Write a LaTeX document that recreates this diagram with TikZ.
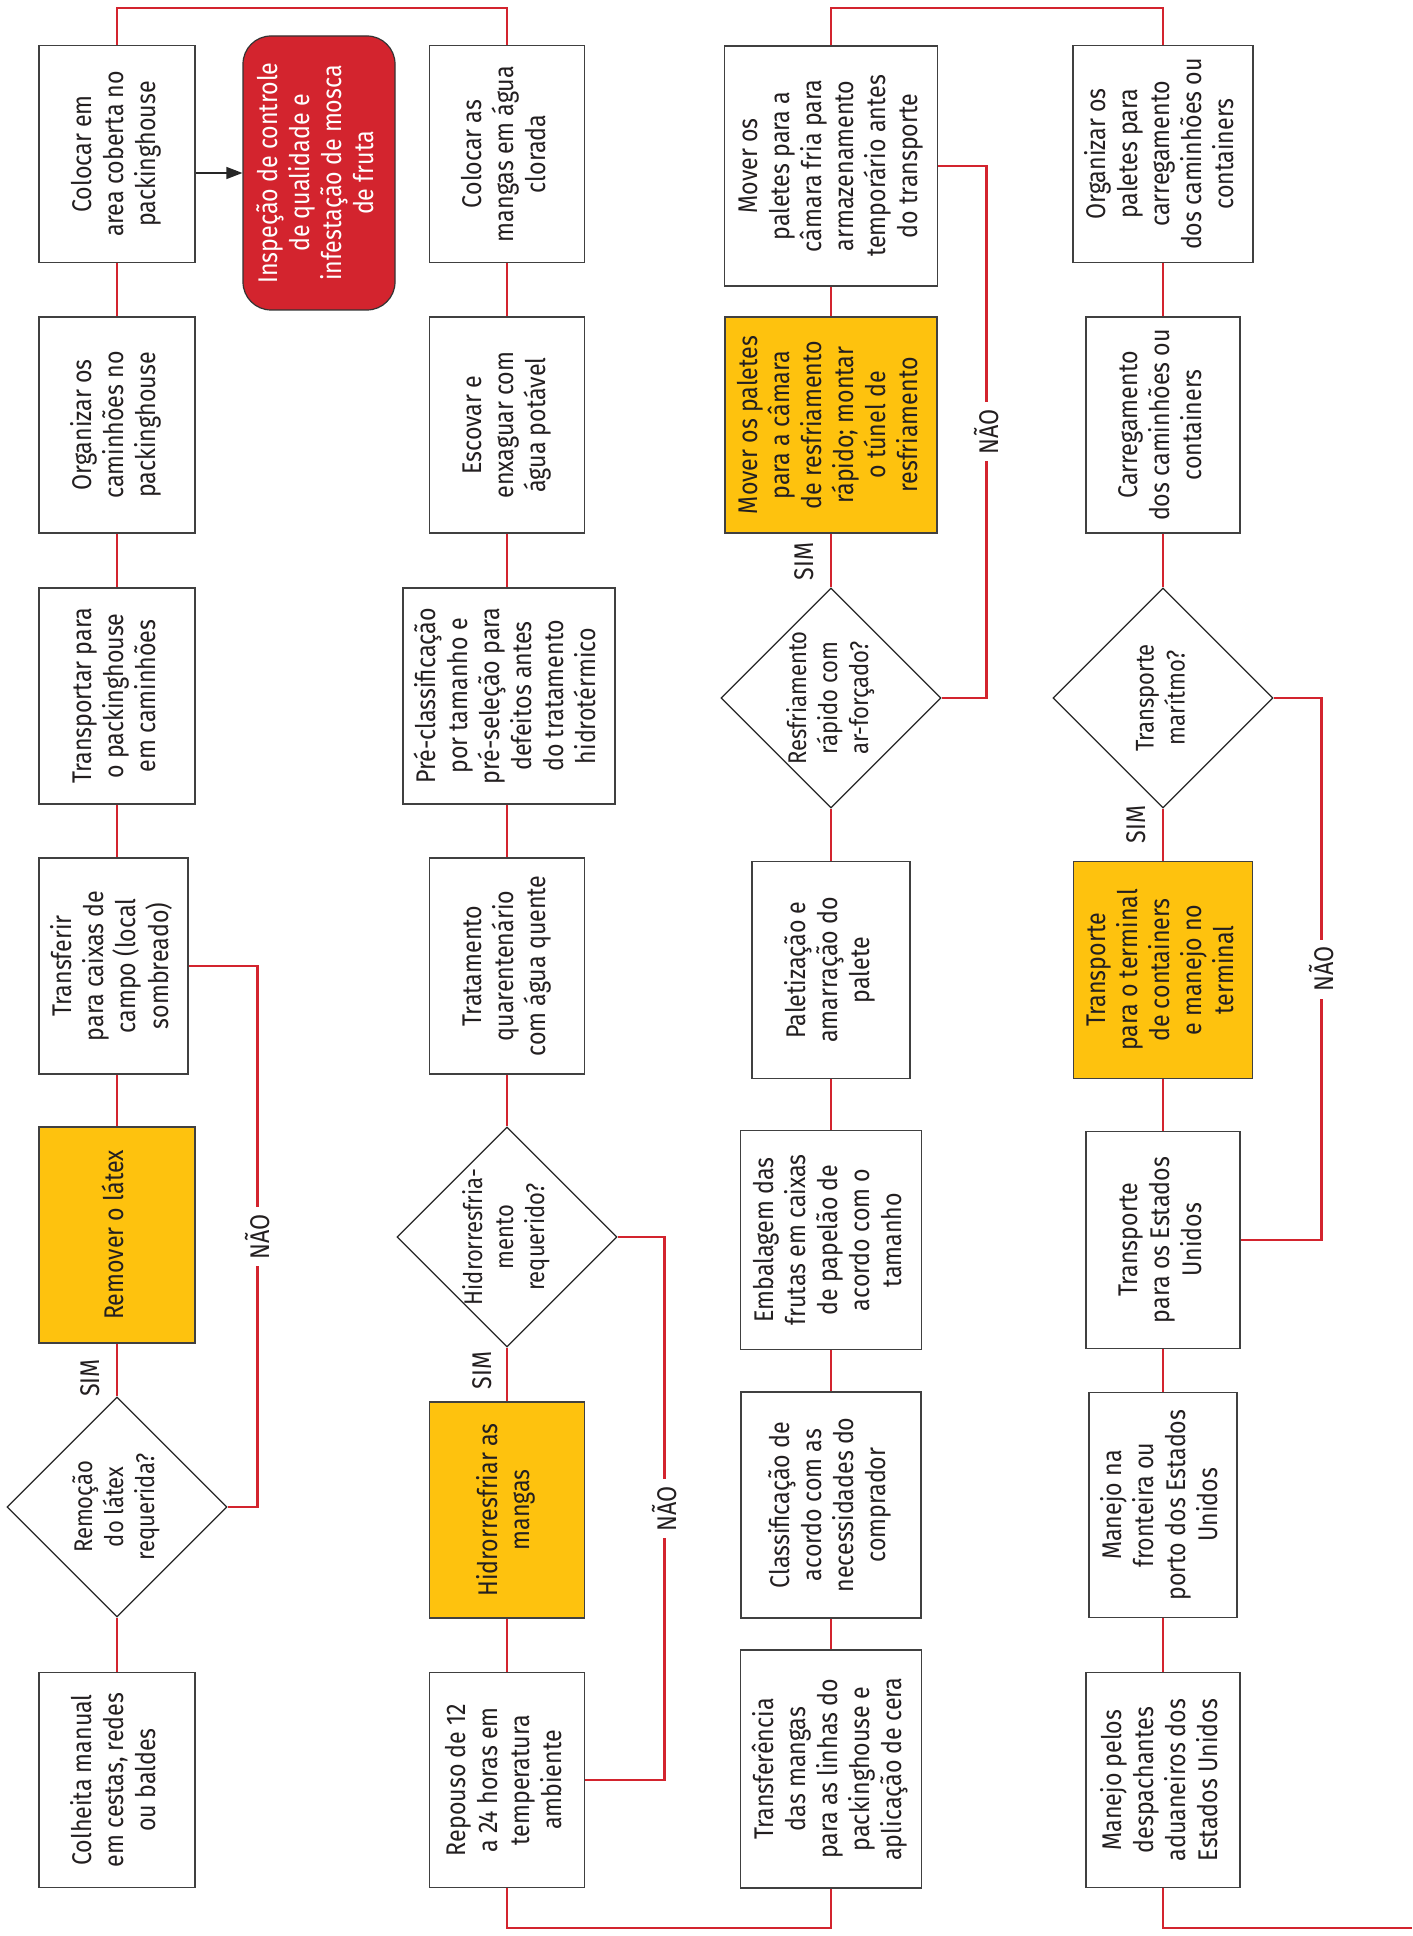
\documentclass[tikz,border=0pt]{standalone}
\usepackage{graphicx}
\usepackage{fontspec}
\setmainfont{Fira Sans}[FakeStretch=0.86]
\usetikzlibrary{shapes.geometric,arrows.meta}
\definecolor{fred}{RGB}{211,36,46}
\definecolor{fyel}{RGB}{254,194,14}
\definecolor{fbord}{RGB}{64,64,64}
\definecolor{ftext}{RGB}{35,31,32}
\newcommand{\vtxt}[1]{\rotatebox{90}{\begin{tabular}{@{}c@{}}#1\end{tabular}}}
\begin{document}
\begin{tikzpicture}[x=0.5pt,y=-0.5pt,
  txtfont/.style={font=\fontsize{13.5}{16}\selectfont},
  procbox/.style={draw=fbord, line width=0.7pt, fill=white, inner sep=0pt, text=ftext, txtfont},
  yelbox/.style={procbox, fill=fyel},
  wh/.style 2 args={minimum width=#1, minimum height=#2},
  decbox/.style={diamond, draw=black!85, line width=0.6pt, fill=white, inner sep=0pt, minimum width=110pt, minimum height=110pt},
  dtext/.style={text=ftext, inner sep=0pt, font=\fontsize{12.8}{15.5}\selectfont},
  conn/.style={draw=fred, line width=1.2pt},
  simlbl/.style={inner sep=0pt, text=ftext, font=\fontsize{13.5}{16}\selectfont},
  naolbl/.style={fill=white, inner xsep=1pt, inner ysep=3.5pt, text=ftext, font=\fontsize{13.5}{16}\selectfont}
]
\useasboundingbox (0,0) rectangle (1412,1936);
\fill[white] (0,0) rectangle (1412,1936);

% ---------- column 1 ----------
\node[procbox, wh={78pt}{108.5pt}] (n1) at (117,154) {\vtxt{Colocar em\\area coberta no\\packinghouse}};
\node[procbox, wh={78pt}{108pt}] (n2) at (117,425) {\vtxt{Organizar os\\caminhões no\\packinghouse}};
\node[procbox, wh={78pt}{108pt}] (n3) at (117,696) {\vtxt{Transportar para\\o packinghouse\\em caminhões}};
\node[procbox, wh={74.5pt}{108pt}] (n4) at (113.5,966) {\vtxt{Transferir\\para caixas de\\campo (local\\sombreado)}};
\node[yelbox, wh={78pt}{108pt}] (n5) at (117,1235) {\vtxt{Remover o látex}};
\node[decbox, label={[dtext]center:\vtxt{Remoção\\do látex\\requerida?}}] (d1) at (117,1507) {};
\node[procbox, wh={78pt}{107.5pt}] (n6) at (117,1780) {\vtxt{Colheita manual\\em cestas, redes\\ou baldes}};
\node[draw=black!80, fill=fred, rounded corners=14pt, line width=0.6pt, wh={76pt}{137pt}, text=white, inner sep=0pt, txtfont] (insp) at (319,173) {\vtxt{Inspeção de controle\\de qualidade e\\infestação de mosca\\de fruta}};

% ---------- column 2 ----------
\node[procbox, wh={77.5pt}{108.5pt}] (n7) at (507,154) {\vtxt{Colocar as\\mangas em água\\clorada}};
\node[procbox, wh={77.5pt}{108pt}] (n8) at (507,425) {\vtxt{Escovar e\\enxaguar com\\água potável}};
\node[procbox, wh={106pt}{108pt}] (n9) at (509,696) {\vtxt{Pré-classificação\\por tamanho e\\pré-seleção para\\defeitos antes\\do tratamento\\hidrotérmico}};
\node[procbox, wh={77.5pt}{108pt}] (n10) at (507,966) {\vtxt{Tratamento\\quarentenário\\com água quente}};
\node[decbox, label={[dtext]center:\vtxt{Hidrorresfria-\\mento\\requerido?}}] (d2) at (507,1237) {};
\node[yelbox, wh={77.5pt}{108pt}] (n11) at (507,1510) {\vtxt{Hidrorresfriar as\\mangas}};
\node[procbox, wh={77.5pt}{107.5pt}] (n12) at (507,1780) {\vtxt{Repouso de 12\\a 24 horas em\\temperatura\\ambiente}};

% ---------- column 3 ----------
\node[procbox, wh={106.5pt}{120pt}] (n13) at (831,166) {\vtxt{Mover os\\paletes para a\\câmara fria para\\armazenamento\\temporário antes\\do transporte}};
\node[yelbox, wh={106pt}{108pt}] (n14) at (831,425) {\vtxt{Mover os paletes\\para a câmara\\de resfriamento\\rápido; montar\\o túnel de\\resfriamento}};
\node[decbox, label={[dtext]center:\vtxt{Resfriamento\\rápido com\\ar-forçado?}}] (d3) at (831,698) {};
\node[procbox, wh={79pt}{108.5pt}] (n15) at (831,970) {\vtxt{Paletização e\\amarração do\\palete}};
\node[procbox, wh={90.5pt}{109.5pt}] (n16) at (831,1240) {\vtxt{Embalagem das\\frutas em caixas\\de papelão de\\acordo com o\\tamanho}};
\node[procbox, wh={90pt}{113pt}] (n17) at (831,1505) {\vtxt{Classificação de\\acordo com as\\necessidades do\\comprador}};
\node[procbox, wh={90.5pt}{119pt}] (n18) at (831,1769) {\vtxt{Transferência\\das mangas\\para as linhas do\\packinghouse e\\aplicação de cera}};

% ---------- column 4 ----------
\node[procbox, wh={90pt}{108.5pt}] (n19) at (1163,154) {\vtxt{Organizar os\\paletes para\\carregamento\\dos caminhões ou\\containers}};
\node[procbox, wh={77pt}{108pt}] (n20) at (1163,425) {\vtxt{Carregamento\\dos caminhões ou\\containers}};
\node[decbox, label={[dtext]center:\vtxt{Transporte\\marítmo?}}] (d4) at (1163,698) {};
\node[yelbox, wh={89.5pt}{108.5pt}] (n21) at (1163,970) {\vtxt{Transporte\\para o terminal\\de containers\\e manejo no\\terminal}};
\node[procbox, wh={77pt}{108.5pt}] (n22) at (1163,1240) {\vtxt{Transporte\\para os Estados\\Unidos}};
\node[procbox, wh={74pt}{112.5pt}] (n23) at (1163,1505) {\vtxt{Manejo na\\fronteira ou\\porto dos Estados\\Unidos}};
\node[procbox, wh={77pt}{107.5pt}] (n24) at (1163,1780) {\vtxt{Manejo pelos\\despachantes\\aduaneiros dos\\Estados Unidos}};

\coordinate (topy) at (0,8);
\coordinate (boty) at (0,1928);
\coordinate (exitpt) at (1412,1928);

% ---------- connectors ----------
\draw[conn] (n6.north) -- (d1.south);
\draw[conn] (d1.north) -- node[pos=0.35, left=8pt, simlbl] {\rotatebox{90}{SIM}} (n5.south);
\draw[conn] (n5.north) -- (n5.north |- n4.south);
\draw[conn] (n3.south) -- (n3.south |- n4.north);
\draw[conn] (n3.north) -- (n2.south);
\draw[conn] (n2.north) -- (n1.south);
\draw[conn] (d1.east) -- ++(30,0) |- node[pos=0.25, naolbl] {\rotatebox{90}{NÃO}} (n4.east);
\draw[conn] (n1.north) -- (n1.north |- topy) -| (n7.north);
\draw[line width=0.6pt, draw=black!85, -{Triangle[length=8pt,width=6pt]}] (n1.east |- insp.west) -- (insp.west);

\draw[conn] (n7.south) -- (n8.north);
\draw[conn] (n8.south) -- (n8.south |- n9.north);
\draw[conn] (n10.north) -- (n10.north |- n9.south);
\draw[conn] (n10.south) -- (d2.north);
\draw[conn] (d2.south) -- node[pos=0.43, left=7pt, simlbl] {\rotatebox{90}{SIM}} (n11.north);
\draw[conn] (n11.south) -- (n12.north);
\draw[conn] (d2.east) -- ++(47,0) |- node[pos=0.25, naolbl] {\rotatebox{90}{NÃO}} (n12.east);
\draw[conn] (n12.south) -- (n12.south |- boty) -| (n18.south);

\draw[conn] (n18.north) -- (n17.south);
\draw[conn] (n17.north) -- (n16.south);
\draw[conn] (n16.north) -- (n15.south);
\draw[conn] (n15.north) -- (d3.south);
\draw[conn] (d3.north) -- node[pos=0.48, left=8pt, simlbl] {\rotatebox{90}{SIM}} (n14.south);
\draw[conn] (n14.north) -- (n13.south);
\draw[conn] (d3.east) -- ++(45,0) |- node[pos=0.25, naolbl] {\rotatebox{90}{NÃO}} (n13.east);
\draw[conn] (n13.north) -- (n13.north |- topy) -| (n19.north);

\draw[conn] (n19.south) -- (n20.north);
\draw[conn] (n20.south) -- (d4.north);
\draw[conn] (d4.south) -- node[pos=0.3, left=8pt, simlbl] {\rotatebox{90}{SIM}} (n21.north);
\draw[conn] (n21.south) -- (n22.north);
\draw[conn] (n22.south) -- (n23.north);
\draw[conn] (n23.south) -- (n24.north);
\draw[conn] (d4.east) -- ++(48,0) |- node[pos=0.25, naolbl] {\rotatebox{90}{NÃO}} (n22.east);
\draw[conn] (n24.south) |- (exitpt);
\end{tikzpicture}
\end{document}
